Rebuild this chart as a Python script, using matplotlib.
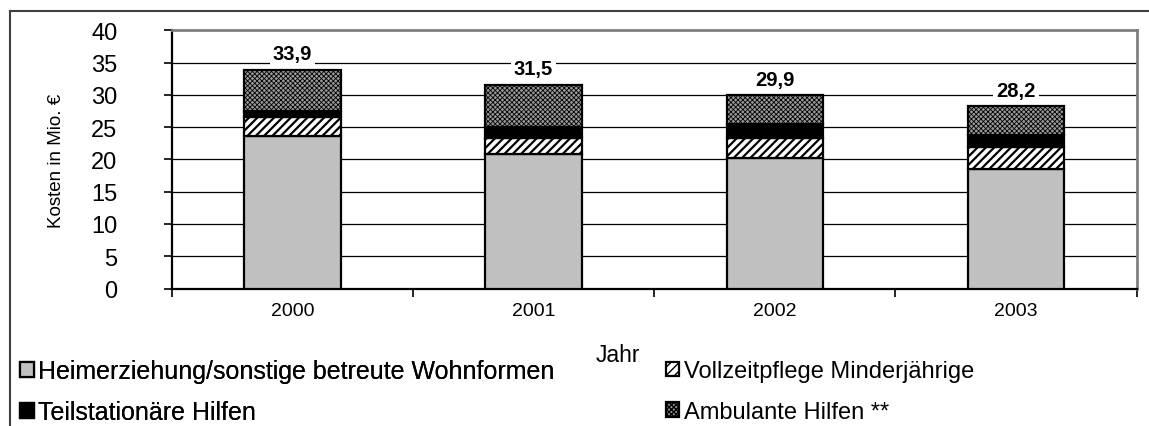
import matplotlib
matplotlib.use("Agg")
import matplotlib.pyplot as plt
from matplotlib.lines import Line2D
import numpy as np

plt.rcParams['font.family'] = ['Liberation Sans', 'DejaVu Sans']

years = ["2000", "2001", "2002", "2003"]
heim = [23.6, 20.8, 20.2, 18.5]
voll = [2.9, 2.5, 3.1, 3.4]
teil = [1.0, 1.7, 2.2, 1.9]
amb = [6.4, 6.5, 4.4, 4.4]
totals = [33.9, 31.5, 29.9, 28.2]
series_labels = ["Heimerziehung/sonstige betreute Wohnformen",
                 "Vollzeitpflege Minderjährige",
                 "Teilstationäre Hilfen",
                 "Ambulante Hilfen **"]
yticks = [0, 5, 10, 15, 20, 25, 30, 35, 40]

W, H = 1149, 427
fig = plt.figure(figsize=(W / 100, H / 100), dpi=100)
ax = fig.add_axes([171.7 / W, 1 - 289.5 / H, (1136.7 - 171.7) / W, (289.5 - 31.3) / H])

x = np.arange(len(years))
bw = 0.4
edge = dict(edgecolor='black', linewidth=1.6, zorder=3)

b1 = ax.bar(x, heim, bw, color='#c0c0c0', **edge)
bottom = np.array(heim)
with plt.rc_context({'hatch.linewidth': 1.6, 'hatch.color': 'black'}):
    b2 = ax.bar(x, voll, bw, bottom=bottom, color='white', hatch='////', **edge)
bottom = bottom + np.array(voll)
b3 = ax.bar(x, teil, bw, bottom=bottom, color='black', **edge)
bottom = bottom + np.array(teil)
with plt.rc_context({'hatch.linewidth': 0.6, 'hatch.color': '#e0e0e0'}):
    b4 = ax.bar(x, amb, bw, bottom=bottom, color='#9a9a9a', hatch='xxxxxxx', **edge)

for xi, t in zip(x, totals):
    ax.annotate(f"{t:.1f}".replace('.', ','), (xi, t), xytext=(0, 5),
                textcoords='offset points', ha='center', va='bottom',
                fontsize=14.5, fontweight='bold', zorder=5,
                bbox=dict(boxstyle='square,pad=0.15', fc='white', ec='none'))

ax.set_xlim(-0.5, 3.5)
ax.set_ylim(0, 40)
ax.set_yticks(yticks)
ax.set_yticklabels([str(v) for v in yticks], fontsize=17)
ax.tick_params(axis='y', direction='out', length=6, width=1.2, pad=33)
ax.set_xticks(x)
ax.set_xticklabels(years, fontsize=14)
ax.tick_params(axis='x', which='major', length=0, pad=10)
ax.set_xticks(np.arange(-0.5, 4.0, 1.0), minor=True)
ax.tick_params(axis='x', which='minor', direction='out', length=6, width=1.2)

for v in yticks[1:-1]:
    ax.axhline(v, color='black', linewidth=0.9, zorder=1)

ax.spines['left'].set_linewidth(1.6)
ax.spines['bottom'].set_linewidth(1.6)
ax.spines['top'].set_color('#808080')
ax.spines['top'].set_linewidth(2)
ax.spines['right'].set_color('#808080')
ax.spines['right'].set_linewidth(2)

ax.set_ylabel("Kosten in Mio. €", fontsize=13.5, labelpad=0)
ax.yaxis.set_label_coords(-(171.7 - 65) / (1136.7 - 171.7), 0.5)
fig.text(618 / W, 1 - 355 / H, "Jahr", fontsize=16.5, ha='center', va='center')

# outer frame
fig.add_artist(Line2D([10 / W, 10 / W], [0, 1 - 12 / H], transform=fig.transFigure,
                      color='#404040', linewidth=1.5))
fig.add_artist(Line2D([10 / W, 1], [1 - 12 / H, 1 - 12 / H], transform=fig.transFigure,
                      color='#404040', linewidth=1.5))

handles = [b1[0], b2[0], b3[0], b4[0]]
kw = dict(frameon=False, handlelength=0.55, handleheight=0.55,
          borderpad=0, borderaxespad=0, loc='upper left')
leg1 = fig.legend([handles[0], handles[2]], [series_labels[0], series_labels[2]],
                  bbox_to_anchor=(20 / W, 1 - 360 / H), fontsize=18,
                  handletextpad=0.15, labelspacing=0.7, **kw)
fig.add_artist(leg1)
leg2 = fig.legend([handles[1], handles[3]], [series_labels[1], series_labels[3]],
                  bbox_to_anchor=(666 / W, 1 - 361 / H), fontsize=17,
                  handletextpad=0.2, labelspacing=0.8, **kw)

fig.savefig("out.png", dpi=100)
